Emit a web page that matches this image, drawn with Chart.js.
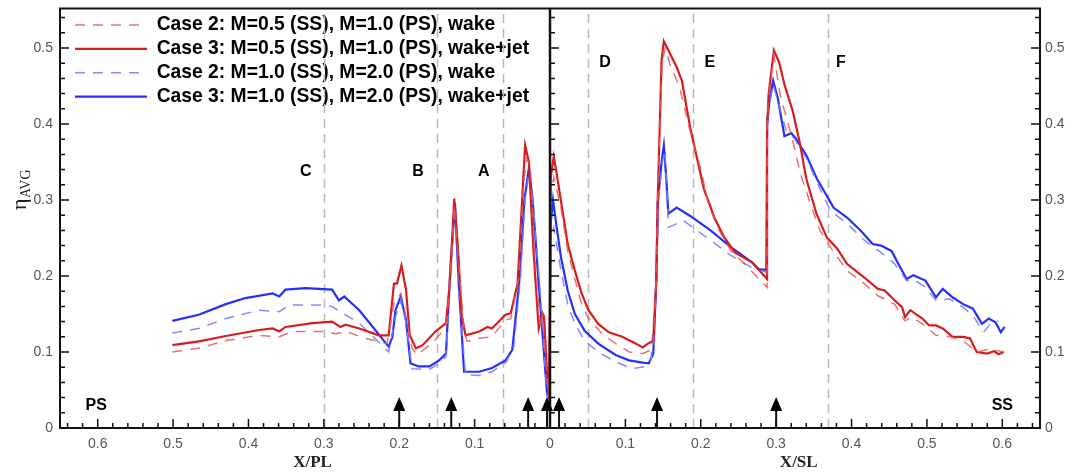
<!DOCTYPE html>
<html>
<head>
<meta charset="utf-8">
<script src="https://cdn.jsdelivr.net/npm/chart.js@4.4.1/dist/chart.umd.min.js"></script>
<style>
  html, body { margin: 0; padding: 0; background: #fff; }
  #wrap { width: 1076px; height: 475px; }
</style>
</head>
<body>
<div id="wrap"><canvas id="etaChart"></canvas></div>
<script>
// x < 0 : pressure side (X/PL), x > 0 : suction side (X/SL)
const case2RedX = [-0.501, -0.466, -0.430, -0.386, -0.359, -0.342, -0.302, -0.284, -0.271, -0.245, -0.216, -0.207, -0.198, -0.191, -0.183, -0.176, -0.152, -0.138, -0.133, -0.127, -0.122, -0.114, -0.110, -0.094, -0.077, -0.059, -0.052, -0.041, -0.035, -0.031, -0.026, -0.020, -0.013, -0.010, -0.004, -0.001,
  0.001, 0.005, 0.0145, 0.0235, 0.033, 0.042, 0.051, 0.069, 0.087, 0.105, 0.123, 0.137, 0.141, 0.143, 0.1455, 0.149, 0.153, 0.159, 0.172, 0.186, 0.200, 0.209, 0.222, 0.240, 0.258, 0.288, 0.288, 0.290, 0.297, 0.306, 0.320, 0.333, 0.344, 0.358, 0.372, 0.394, 0.417, 0.435, 0.457, 0.471, 0.480, 0.494, 0.512, 0.530, 0.548, 0.566, 0.584, 0.602];
const case2RedY = [0.100, 0.105, 0.115, 0.122, 0.120, 0.127, 0.127, 0.124, 0.127, 0.118, 0.111, 0.164, 0.177, 0.146, 0.105, 0.096, 0.116, 0.133, 0.190, 0.293, 0.226, 0.131, 0.114, 0.118, 0.120, 0.142, 0.144, 0.199, 0.322, 0.355, 0.344, 0.226, 0.131, 0.148, 0.068, 0.040,
  0.310, 0.330, 0.290, 0.233, 0.196, 0.163, 0.144, 0.124, 0.111, 0.100, 0.098, 0.104, 0.194, 0.306, 0.395, 0.484, 0.500, 0.479, 0.448, 0.390, 0.341, 0.299, 0.264, 0.233, 0.216, 0.185, 0.399, 0.435, 0.490, 0.435, 0.386, 0.332, 0.299, 0.260, 0.238, 0.207, 0.190, 0.174, 0.163, 0.141, 0.146, 0.137, 0.122, 0.120, 0.115, 0.100, 0.104, 0.100];

const case3RedX = [-0.501, -0.466, -0.430, -0.386, -0.368, -0.359, -0.351, -0.315, -0.289, -0.278, -0.271, -0.253, -0.227, -0.214, -0.207, -0.203, -0.197, -0.191, -0.186, -0.178, -0.169, -0.152, -0.138, -0.133, -0.127, -0.122, -0.117, -0.112, -0.094, -0.083, -0.077, -0.059, -0.052, -0.043, -0.037, -0.033, -0.028, -0.022, -0.015, -0.010, -0.008, -0.004, -0.001,
  0.001, 0.005, 0.008, 0.0145, 0.0235, 0.033, 0.042, 0.051, 0.064, 0.078, 0.096, 0.114, 0.123, 0.130, 0.137, 0.141, 0.143, 0.1455, 0.148, 0.151, 0.157, 0.168, 0.175, 0.186, 0.195, 0.204, 0.2066, 0.218, 0.231, 0.245, 0.268, 0.288, 0.288, 0.290, 0.297, 0.304, 0.311, 0.322, 0.331, 0.340, 0.3535, 0.367, 0.381, 0.394, 0.417, 0.435, 0.444, 0.457, 0.467, 0.471, 0.478, 0.494, 0.503, 0.512, 0.521, 0.534, 0.548, 0.557, 0.566, 0.580, 0.589, 0.595, 0.602];
const case3RedY = [0.109, 0.114, 0.121, 0.129, 0.131, 0.127, 0.133, 0.138, 0.140, 0.133, 0.136, 0.131, 0.122, 0.122, 0.190, 0.190, 0.214, 0.182, 0.122, 0.105, 0.109, 0.127, 0.138, 0.190, 0.302, 0.235, 0.146, 0.122, 0.127, 0.133, 0.131, 0.149, 0.151, 0.190, 0.300, 0.372, 0.350, 0.235, 0.131, 0.151, 0.147, 0.076, 0.040,
  0.330, 0.357, 0.340, 0.299, 0.242, 0.207, 0.177, 0.155, 0.137, 0.126, 0.120, 0.111, 0.106, 0.111, 0.115, 0.194, 0.306, 0.395, 0.484, 0.509, 0.497, 0.475, 0.457, 0.395, 0.355, 0.315, 0.308, 0.277, 0.251, 0.231, 0.218, 0.196, 0.399, 0.439, 0.497, 0.481, 0.452, 0.417, 0.377, 0.328, 0.282, 0.251, 0.236, 0.216, 0.198, 0.183, 0.181, 0.168, 0.159, 0.146, 0.155, 0.144, 0.135, 0.135, 0.131, 0.120, 0.120, 0.118, 0.100, 0.098, 0.101, 0.097, 0.100];

const case2BlueX = [-0.501, -0.466, -0.430, -0.386, -0.359, -0.346, -0.302, -0.289, -0.275, -0.253, -0.214, -0.205, -0.198, -0.191, -0.183, -0.160, -0.147, -0.138, -0.132, -0.126, -0.121, -0.112, -0.094, -0.077, -0.058, -0.048, -0.039, -0.033, -0.028, -0.022, -0.013, -0.004, -0.001,
  0.001, 0.005, 0.0145, 0.0235, 0.033, 0.046, 0.064, 0.087, 0.109, 0.127, 0.134, 0.141, 0.144, 0.149, 0.152, 0.155, 0.157, 0.177, 0.213, 0.240, 0.268, 0.287, 0.288, 0.291, 0.296, 0.306, 0.313, 0.324, 0.340, 0.358, 0.372, 0.394, 0.417, 0.439, 0.457, 0.473, 0.485, 0.498, 0.512, 0.530, 0.548, 0.561, 0.575, 0.584, 0.595];
const case2BlueY = [0.125, 0.131, 0.144, 0.155, 0.153, 0.162, 0.162, 0.160, 0.151, 0.138, 0.100, 0.146, 0.168, 0.138, 0.078, 0.077, 0.085, 0.094, 0.212, 0.289, 0.180, 0.070, 0.069, 0.074, 0.087, 0.107, 0.199, 0.300, 0.335, 0.290, 0.180, 0.043, 0.035,
  0.250, 0.264, 0.207, 0.163, 0.137, 0.115, 0.100, 0.087, 0.078, 0.081, 0.089, 0.194, 0.300, 0.350, 0.365, 0.320, 0.264, 0.273, 0.247, 0.227, 0.211, 0.205, 0.399, 0.425, 0.452, 0.417, 0.392, 0.381, 0.355, 0.315, 0.286, 0.269, 0.247, 0.231, 0.216, 0.194, 0.194, 0.185, 0.168, 0.170, 0.159, 0.148, 0.126, 0.137, 0.141];

const case3BlueX = [-0.501, -0.466, -0.430, -0.404, -0.368, -0.359, -0.351, -0.324, -0.289, -0.280, -0.273, -0.253, -0.214, -0.209, -0.205, -0.198, -0.191, -0.185, -0.174, -0.160, -0.147, -0.138, -0.132, -0.126, -0.121, -0.114, -0.094, -0.077, -0.059, -0.050, -0.041, -0.034, -0.028, -0.023, -0.015, -0.004, -0.001,
  0.001, 0.004, 0.008, 0.0145, 0.0235, 0.033, 0.046, 0.064, 0.087, 0.105, 0.123, 0.131, 0.137, 0.141, 0.143, 0.148, 0.151, 0.154, 0.157, 0.168, 0.186, 0.213, 0.240, 0.268, 0.277, 0.287, 0.288, 0.291, 0.296, 0.302, 0.306, 0.311, 0.320, 0.326, 0.340, 0.354, 0.367, 0.376, 0.394, 0.412, 0.428, 0.439, 0.453, 0.462, 0.473, 0.482, 0.498, 0.512, 0.521, 0.534, 0.548, 0.561, 0.573, 0.582, 0.591, 0.598, 0.603];
const case3BlueY = [0.141, 0.149, 0.163, 0.171, 0.177, 0.173, 0.182, 0.184, 0.182, 0.168, 0.173, 0.155, 0.107, 0.120, 0.155, 0.173, 0.142, 0.085, 0.081, 0.081, 0.089, 0.098, 0.212, 0.296, 0.190, 0.074, 0.074, 0.079, 0.089, 0.103, 0.190, 0.300, 0.342, 0.300, 0.190, 0.046, 0.035,
  0.270, 0.300, 0.270, 0.225, 0.181, 0.150, 0.128, 0.111, 0.096, 0.089, 0.086, 0.085, 0.098, 0.194, 0.297, 0.350, 0.372, 0.332, 0.282, 0.290, 0.279, 0.260, 0.238, 0.218, 0.209, 0.208, 0.399, 0.430, 0.457, 0.435, 0.412, 0.384, 0.388, 0.381, 0.359, 0.328, 0.306, 0.290, 0.277, 0.260, 0.242, 0.240, 0.233, 0.216, 0.196, 0.201, 0.194, 0.172, 0.183, 0.172, 0.163, 0.157, 0.137, 0.144, 0.139, 0.126, 0.133];

const seriesNames = [
  'Case 2: M=0.5 (SS), M=1.0 (PS), wake',
  'Case 3: M=0.5 (SS), M=1.0 (PS), wake+jet',
  'Case 2: M=1.0 (SS), M=2.0 (PS), wake',
  'Case 3: M=1.0 (SS), M=2.0 (PS), wake+jet'
];

const xTicks = [-0.6, -0.5, -0.4, -0.3, -0.2, -0.1, 0, 0.1, 0.2, 0.3, 0.4, 0.5, 0.6];
const yTicks = [0, 0.1, 0.2, 0.3, 0.4, 0.5];

// region boundaries, their letters, and the arrows on the wall
const regionLines = [-0.30, -0.150, -0.063, 0.050, 0.190, 0.369];
const regionNames = ['C', 'B', 'A', 'D', 'E', 'F'];
const regionNameX = [-0.324, -0.175, -0.088, 0.073, 0.212, 0.386];
const regionNameY = [0.337, 0.337, 0.337, 0.481, 0.481, 0.481];
const arrowX = [-0.200, -0.131, -0.029, -0.004, 0.012, 0.142, 0.300];

const pts = (xs, ys) => xs.map((v, i) => ({x: v, y: ys[i]}));

const red = 'rgb(214, 30, 30)';
const redLight = 'rgba(228, 90, 90, 0.85)';
const blue = 'rgb(38, 48, 250)';
const blueLight = 'rgba(118, 128, 255, 0.9)';

const decor = {
  id: 'decor',
  afterLayout(chart) {
    // nudge the in-plot legend to where the original sits
    const lg = chart.legend;
    lg.left += 10.4; lg.right += 10.4;
    lg.top += 10.7; lg.bottom += 10.7;
  },
  beforeDatasetsDraw(chart) {
    const {ctx, chartArea: a, scales: {x}} = chart;
    ctx.save();
    ctx.strokeStyle = '#b9b9b9';
    ctx.lineWidth = 1.5;
    ctx.setLineDash([9, 6]);
    regionLines.forEach(v => {
      const px = Math.round(x.getPixelForValue(v)) + 0.5;
      ctx.beginPath(); ctx.moveTo(px, a.bottom); ctx.lineTo(px, a.top); ctx.stroke();
    });
    ctx.restore();
  },
  afterDatasetsDraw(chart) {
    const {ctx, chartArea: a, scales: {x, y}} = chart;
    ctx.save();
    ctx.strokeStyle = '#111';
    ctx.lineWidth = 2;
    ctx.strokeRect(a.left, a.top, a.right - a.left, a.bottom - a.top);
    const cx = x.getPixelForValue(0);
    ctx.lineWidth = 2.5;
    ctx.beginPath(); ctx.moveTo(cx, a.top); ctx.lineTo(cx, a.bottom); ctx.stroke();

    // inward ticks
    ctx.lineWidth = 1.5;
    for (let i = -32; i <= 32; i++) {
      const px = x.getPixelForValue(i * 0.02);
      const len = i % 5 === 0 ? 9 : 5;
      ctx.beginPath(); ctx.moveTo(px, a.bottom); ctx.lineTo(px, a.bottom - len); ctx.stroke();
    }
    for (let j = 0; j <= 27; j++) {
      const py = y.getPixelForValue(j * 0.02);
      const len = j % 5 === 0 ? 9 : 5;
      ctx.beginPath();
      ctx.moveTo(a.left, py); ctx.lineTo(a.left + len, py);
      ctx.moveTo(a.right, py); ctx.lineTo(a.right - len, py);
      ctx.moveTo(cx, py); ctx.lineTo(cx + len, py);
      ctx.stroke();
    }

    // arrows
    ctx.fillStyle = '#000';
    ctx.lineWidth = 2;
    arrowX.forEach(v => {
      const px = x.getPixelForValue(v);
      ctx.beginPath(); ctx.moveTo(px, a.bottom); ctx.lineTo(px, a.bottom - 20); ctx.stroke();
      ctx.beginPath();
      ctx.moveTo(px, a.bottom - 31);
      ctx.lineTo(px - 6, a.bottom - 17);
      ctx.lineTo(px + 6, a.bottom - 17);
      ctx.closePath(); ctx.fill();
    });

    // letters
    ctx.font = 'bold 16px "Liberation Sans", Arial, sans-serif';
    ctx.textAlign = 'center';
    ctx.textBaseline = 'middle';
    regionNames.forEach((t, i) => {
      ctx.fillText(t, x.getPixelForValue(regionNameX[i]), y.getPixelForValue(regionNameY[i]));
    });
    ctx.fillText('PS', x.getPixelForValue(-0.602), y.getPixelForValue(0.029));
    ctx.fillText('SS', x.getPixelForValue(0.600), y.getPixelForValue(0.029));

    // axis titles
    ctx.font = 'bold 17px "Liberation Serif", "Times New Roman", serif';
    ctx.fillStyle = '#222';
    ctx.fillText('X/PL', x.getPixelForValue(-0.315), 463);
    ctx.fillText('X/SL', x.getPixelForValue(0.330), 463);

    ctx.translate(26, 190);
    ctx.rotate(-Math.PI / 2);
    ctx.textAlign = 'left';
    ctx.textBaseline = 'alphabetic';
    ctx.font = '22px "Liberation Serif", "Times New Roman", serif';
    ctx.fillText('η', -20, 0);
    ctx.font = '14px "Liberation Serif", "Times New Roman", serif';
    ctx.fillText('AVG', -8, 4);
    ctx.restore();
  }
};

const tickFont = {family: '"Liberation Sans", Arial, sans-serif', size: 14};
const noPad = s => { s.paddingTop = 0; s.paddingBottom = 0; };

new Chart(document.getElementById('etaChart'), {
  type: 'line',
  data: {
    datasets: [
      {label: seriesNames[0], data: pts(case2RedX, case2RedY), borderColor: redLight, borderWidth: 1.5, borderDash: [10, 8]},
      {label: seriesNames[1], data: pts(case3RedX, case3RedY), borderColor: red, borderWidth: 2.2},
      {label: seriesNames[2], data: pts(case2BlueX, case2BlueY), borderColor: blueLight, borderWidth: 1.5, borderDash: [10, 8]},
      {label: seriesNames[3], data: pts(case3BlueX, case3BlueY), borderColor: blue, borderWidth: 2.2}
    ]
  },
  options: {
    responsive: true,
    maintainAspectRatio: false,
    animation: false,
    parsing: false,
    elements: {
      point: {radius: 0},
      line: {tension: 0, fill: false}
    },
    layout: {padding: {top: 8.5, left: 0, right: 0, bottom: 0}},
    scales: {
      x: {
        type: 'linear',
        min: -0.65,
        max: 0.65,
        afterBuildTicks: s => { s.ticks = xTicks.map(v => ({value: v})); },
        afterFit: s => { s.height = 47; },
        grid: {display: false, drawTicks: false},
        border: {display: false},
        ticks: {
          font: tickFont,
          color: '#555',
          padding: 8,
          maxRotation: 0,
          callback: v => v === 0 ? '0' : Math.abs(v).toFixed(1)
        }
      },
      y: {
        min: 0,
        max: 0.552,
        position: 'left',
        afterBuildTicks: s => { s.ticks = yTicks.map(v => ({value: v})); },
        afterFit: s => { s.width = 60; noPad(s); },
        grid: {display: false, drawTicks: false},
        border: {display: false},
        ticks: {font: tickFont, color: '#555', padding: 7, callback: v => v === 0 ? '0' : v.toFixed(1)}
      },
      y2: {
        min: 0,
        max: 0.552,
        position: 'right',
        afterBuildTicks: s => { s.ticks = yTicks.map(v => ({value: v})); },
        afterFit: s => { s.width = 36; noPad(s); },
        grid: {display: false, drawTicks: false},
        border: {display: false},
        ticks: {font: tickFont, color: '#555', padding: 5, callback: v => v === 0 ? '0' : v.toFixed(1)}
      }
    },
    plugins: {
      tooltip: {enabled: false},
      legend: {
        position: 'chartArea',
        align: 'start',
        labels: {
          usePointStyle: true,
          pointStyle: 'line',
          pointStyleWidth: 72,
          padding: 4.6,
          color: '#000',
          font: {family: '"Liberation Sans", Arial, sans-serif', size: 19.3, weight: 'bold'},
          generateLabels: chart => Chart.defaults.plugins.legend.labels.generateLabels(chart).map(item => {
            const ds = chart.data.datasets[item.datasetIndex];
            return Object.assign(item, {
              lineDash: ds.borderDash || [],
              lineWidth: ds.borderWidth,
              strokeStyle: ds.borderColor
            });
          })
        }
      }
    }
  },
  plugins: [decor]
});
</script>
</body>
</html>
